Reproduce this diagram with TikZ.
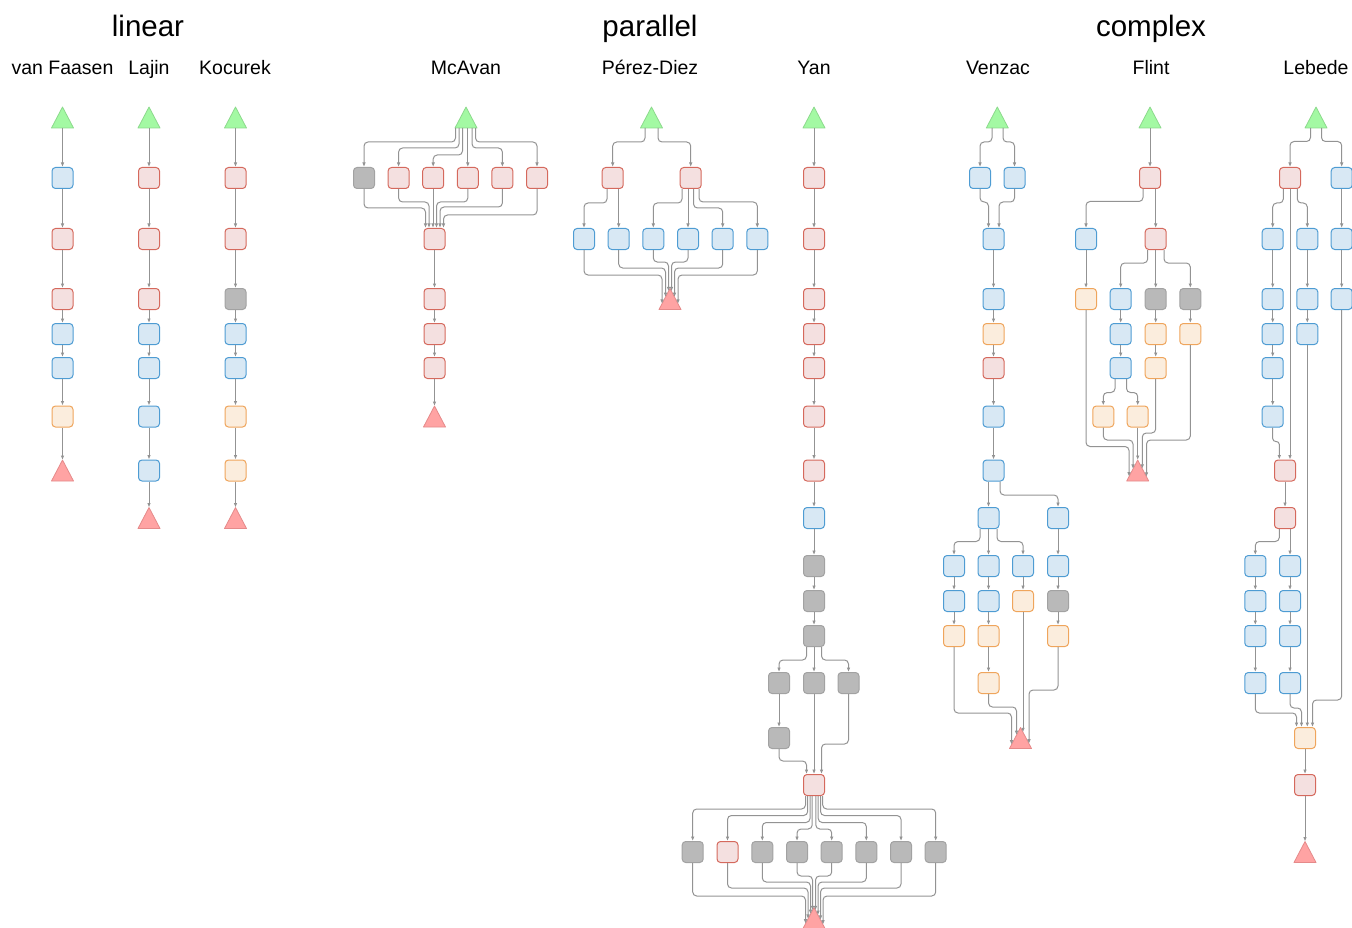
\documentclass[tikz,border=0pt]{standalone}
\usepackage{fontspec}
\setmainfont{Liberation Sans}
\usetikzlibrary{arrows.meta,calc}
\definecolor{bF}{HTML}{D8E8F4}\definecolor{bD}{HTML}{4E9CD3}
\definecolor{rF}{HTML}{F4E0E0}\definecolor{rD}{HTML}{D5695D}
\definecolor{oF}{HTML}{FBEDDD}\definecolor{oD}{HTML}{EFA55C}
\definecolor{gF}{HTML}{B9B9B9}\definecolor{gD}{HTML}{A2A2A2}
\definecolor{tgF}{HTML}{A3F9A3}\definecolor{tgD}{HTML}{8CD98C}
\definecolor{trF}{HTML}{FFA3A3}\definecolor{trD}{HTML}{E58A8A}
\definecolor{eC}{HTML}{939393}
% triangle: name, x, y, style
\newcommand\tri[4]{\node[trin] (#1) at (#2,#3) {};
  \filldraw[#4] (#1.south west) -- (#1.south east) -- (#1.north) -- cycle;}
% straight vertical edge at absolute x
\newcommand\ev[3]{\draw[conn] (#1.south -| #2,0) -- (#3.north -| #2,0);}
% bent edge: [style] src, src x, bend y, target x, target
\newcommand\eb[6][]{\draw[conn,#1] (#2.south -| #3,0) -- (#3,#4) -- (#5,#4) -- (#6.north -| #5,0);}
% bent edge into triangle
\newcommand\ebt[5]{\draw[conn] let \p1=(#5.north) in (#1.south -| #2,0) -- (#2,#3) -- (#4,#3) -- (#4pt,{\y1-21/11*abs(#4pt-\x1)});}
% vertical edge into triangle
\newcommand\evt[3]{\draw[conn] let \p1=(#3.north) in (#1.south -| #2,0) -- (#2pt,{\y1-21/11*abs(#2pt-\x1)});}
\newcommand\chain[1]{\foreach \a/\b in {#1} {\draw[conn] (\a) -- (\b);}}
\begin{document}
\begin{tikzpicture}[x=1pt,y=-1pt,
  bx/.style={rounded corners=3.5pt, minimum width=21pt, minimum height=21pt, inner sep=0pt, line width=1pt},
  nB/.style={bx, draw=bD, fill=bF},
  nR/.style={bx, draw=rD, fill=rF},
  nO/.style={bx, draw=oD, fill=oF},
  nG/.style={bx, draw=gD, fill=gF},
  trin/.style={minimum width=22pt, minimum height=21pt, inner sep=0pt, outer sep=0pt},
  tG/.style={draw=tgD, fill=tgF, line width=0.8pt, line join=round},
  tR/.style={draw=trD, fill=trF, line width=0.8pt, line join=round},
  conn/.style={draw=eC, line width=1pt, rounded corners=4pt, -{Latex[length=4.5pt,width=3.6pt]}},
  ttl/.style={font=\fontsize{29.5}{32}\selectfont, inner sep=0pt, anchor=base},
  sub/.style={font=\fontsize{19.5}{22}\selectfont, inner sep=0pt, anchor=base}]
\useasboundingbox (0,0) rectangle (1352,928);
% titles
\node[ttl] (tLin) at (148,36.5) {linear};
\node[ttl] (tPar) at (650,36.5) {parallel};
\node[ttl] (tCom) at (1151,36.5) {complex};
\node[sub] (sVF) at (62.5,74.5) {van Faasen};
\node[sub] (sLa) at (149,74.5) {Lajin};
\node[sub] (sKo) at (235,74.5) {Kocurek};
\node[sub] (sMc) at (466,74.5) {McAvan};
\node[sub] (sPD) at (650,74.5) {Pérez-Diez};
\node[sub] (sYa) at (814,74.5) {Yan};
\node[sub] (sVe) at (998,74.5) {Venzac};
\node[sub] (sFl) at (1151,74.5) {Flint};
\node[sub] (sLe) at (1316,74.5) {Lebede};
% ---------- van Faasen
\tri{vf0}{62.5}{117.5}{tG}
\node[nB] (vf1) at (62.5,178) {};
\node[nR] (vf2) at (62.5,239) {};
\node[nR] (vf3) at (62.5,299) {};
\node[nB] (vf4) at (62.5,334) {};
\node[nB] (vf5) at (62.5,368) {};
\node[nO] (vf6) at (62.5,416.5) {};
\tri{vf7}{62.5}{470.5}{tR}
\chain{vf0/vf1,vf1/vf2,vf2/vf3,vf3/vf4,vf4/vf5,vf5/vf6,vf6/vf7}
% ---------- Lajin
\tri{la0}{149}{117.5}{tG}
\node[nR] (la1) at (149,178) {};
\node[nR] (la2) at (149,239) {};
\node[nR] (la3) at (149,299) {};
\node[nB] (la4) at (149,334) {};
\node[nB] (la5) at (149,368) {};
\node[nB] (la6) at (149,416.5) {};
\node[nB] (la7) at (149,470.5) {};
\tri{la8}{149}{518}{tR}
\chain{la0/la1,la1/la2,la2/la3,la3/la4,la4/la5,la5/la6,la6/la7,la7/la8}
% ---------- Kocurek
\tri{ko0}{235.5}{117.5}{tG}
\node[nR] (ko1) at (235.5,178) {};
\node[nR] (ko2) at (235.5,239) {};
\node[nG] (ko3) at (235.5,299) {};
\node[nB] (ko4) at (235.5,334) {};
\node[nB] (ko5) at (235.5,368) {};
\node[nO] (ko6) at (235.5,416.5) {};
\node[nO] (ko7) at (235.5,470.5) {};
\tri{ko8}{235.5}{518}{tR}
\chain{ko0/ko1,ko1/ko2,ko2/ko3,ko3/ko4,ko4/ko5,ko5/ko6,ko6/ko7,ko7/ko8}
% ---------- McAvan
\tri{mc0}{466}{117.5}{tG}
\node[nG] (mc1) at (364,178) {};
\node[nR] (mc2) at (398.6,178) {};
\node[nR] (mc3) at (433.2,178) {};
\node[nR] (mc4) at (467.8,178) {};
\node[nR] (mc5) at (502.4,178) {};
\node[nR] (mc6) at (537,178) {};
\node[nR] (mc7) at (434.5,239) {};
\node[nR] (mc8) at (434.5,299) {};
\node[nR] (mc9) at (434.5,334) {};
\node[nR] (mc10) at (434.5,368) {};
\tri{mc11}{434.5}{416.5}{tR}
\eb{mc0}{455.5}{142}{364}{mc1}
\eb{mc0}{459}{148}{398.6}{mc2}
\eb{mc0}{462.5}{155}{433.2}{mc3}
\ev{mc0}{467.8}{mc4}
\eb{mc0}{472}{148}{502.4}{mc5}
\eb{mc0}{475.5}{142}{537}{mc6}
\eb{mc1}{364}{208}{425.5}{mc7}
\eb{mc2}{398.6}{202}{429}{mc7}
\ev{mc3}{433}{mc7}
\eb{mc4}{467.8}{202}{436.5}{mc7}
\eb{mc5}{502.4}{207}{440}{mc7}
\eb{mc6}{537}{215}{443.5}{mc7}
\chain{mc7/mc8,mc8/mc9,mc9/mc10,mc10/mc11}
% ---------- Perez-Diez
\tri{pd0}{651.5}{117.5}{tG}
\node[nR] (pd1) at (612.7,178) {};
\node[nR] (pd2) at (690.7,178) {};
\node[nB] (pd3) at (584,239) {};
\node[nB] (pd4) at (618.7,239) {};
\node[nB] (pd5) at (653.3,239) {};
\node[nB] (pd6) at (688,239) {};
\node[nB] (pd7) at (722.7,239) {};
\node[nB] (pd8) at (757.3,239) {};
\tri{pd9}{670}{299}{tR}
\eb{pd0}{645}{142}{612.7}{pd1}
\eb{pd0}{658}{142}{690.7}{pd2}
\eb{pd1}{607}{203}{584}{pd3}
\ev{pd1}{618.7}{pd4}
\eb{pd2}{682}{203}{653.3}{pd5}
\ev{pd2}{688}{pd6}
\eb{pd2}{693.5}{208}{722.7}{pd7}
\eb{pd2}{699}{202}{757.3}{pd8}
\ebt{pd3}{584}{275}{662}{pd9}
\ebt{pd4}{618.7}{268}{665.5}{pd9}
\ebt{pd5}{653.3}{262}{668.5}{pd9}
\ebt{pd6}{688}{262}{671.5}{pd9}
\ebt{pd7}{722.7}{268}{674.5}{pd9}
\ebt{pd8}{757.3}{275}{678}{pd9}
% ---------- Yan
\tri{ya0}{814}{117.5}{tG}
\node[nR] (ya1) at (814,178) {};
\node[nR] (ya2) at (814,239) {};
\node[nR] (ya3) at (814,299) {};
\node[nR] (ya4) at (814,334) {};
\node[nR] (ya5) at (814,368) {};
\node[nR] (ya6) at (814,416.5) {};
\node[nR] (ya7) at (814,470.5) {};
\node[nB] (ya8) at (814,518) {};
\node[nG] (ya9) at (814,566) {};
\node[nG] (ya10) at (814,601) {};
\node[nG] (ya11) at (814,636) {};
\node[nG] (ya12) at (779,683) {};
\node[nG] (ya13) at (814,683) {};
\node[nG] (ya14) at (848.5,683) {};
\node[nG] (ya15) at (779,738) {};
\node[nR] (ya16) at (814,785) {};
\node[nG] (ya17) at (692.7,852) {};
\node[nR] (ya18) at (727.5,852) {};
\node[nG] (ya19) at (762.3,852) {};
\node[nG] (ya20) at (797,852) {};
\node[nG] (ya21) at (831.7,852) {};
\node[nG] (ya22) at (866.3,852) {};
\node[nG] (ya23) at (901,852) {};
\node[nG] (ya24) at (935.7,852) {};
\tri{ya25}{814}{918}{tR}
\chain{ya0/ya1,ya1/ya2,ya2/ya3,ya3/ya4,ya4/ya5,ya5/ya6,ya6/ya7,ya7/ya8,ya8/ya9,ya9/ya10,ya10/ya11,ya11/ya13,ya12/ya15,ya13/ya16}
\eb{ya11}{806.5}{660}{779}{ya12}
\eb{ya11}{821.5}{660}{848.5}{ya14}
\eb{ya15}{779}{761}{806.5}{ya16}
\eb{ya14}{848.5}{744}{821.5}{ya16}
\eb{ya16}{805.5}{809}{692.7}{ya17}
\eb{ya16}{807.7}{815.5}{727.5}{ya18}
\eb{ya16}{810}{822.5}{762.3}{ya19}
\eb{ya16}{812.2}{829}{797}{ya20}
\eb{ya16}{815.8}{829}{831.7}{ya21}
\eb{ya16}{818.2}{822.5}{866.3}{ya22}
\eb{ya16}{820.5}{815.5}{901}{ya23}
\eb{ya16}{822.7}{809}{935.7}{ya24}
\ebt{ya17}{692.7}{896}{805.5}{ya25}
\ebt{ya18}{727.5}{888}{808}{ya25}
\ebt{ya19}{762.3}{882}{810.5}{ya25}
\ebt{ya20}{797}{876}{812.5}{ya25}
\ebt{ya21}{831.7}{876}{815.5}{ya25}
\ebt{ya22}{866.3}{882}{818}{ya25}
\ebt{ya23}{901}{888}{820.5}{ya25}
\ebt{ya24}{935.7}{896}{823}{ya25}
% ---------- Venzac
\tri{ve0}{997.3}{117.5}{tG}
\node[nB] (ve1) at (980,178) {};
\node[nB] (ve2) at (1014.5,178) {};
\node[nB] (ve3) at (993.5,239) {};
\node[nB] (ve4) at (993.5,299) {};
\node[nO] (ve5) at (993.5,334) {};
\node[nR] (ve6) at (993.5,368) {};
\node[nB] (ve7) at (993.5,416.5) {};
\node[nB] (ve8) at (993.5,470.5) {};
\node[nB] (ve9) at (988.5,518) {};
\node[nB] (ve10) at (1058,518) {};
\node[nB] (ve11) at (954,566) {};
\node[nB] (ve12) at (988.5,566) {};
\node[nB] (ve13) at (1023,566) {};
\node[nB] (ve14) at (1058,566) {};
\node[nB] (ve15) at (954,601) {};
\node[nB] (ve16) at (988.5,601) {};
\node[nO] (ve17) at (1023,601) {};
\node[nG] (ve18) at (1058,601) {};
\node[nO] (ve19) at (954,636) {};
\node[nO] (ve20) at (988.5,636) {};
\node[nO] (ve21) at (1058,636) {};
\node[nO] (ve22) at (988.5,683) {};
\tri{ve23}{1020.5}{738}{tR}
\eb{ve0}{992}{142}{980}{ve1}
\eb{ve0}{1003}{142}{1014.5}{ve2}
\eb{ve1}{980}{202}{988.5}{ve3}
\eb{ve2}{1014.5}{202}{999}{ve3}
\chain{ve3/ve4,ve4/ve5,ve5/ve6,ve6/ve7,ve7/ve8,ve9/ve12,ve10/ve14,ve11/ve15,ve15/ve19,ve12/ve16,ve16/ve20,ve20/ve22,ve13/ve17,ve14/ve18,ve18/ve21}
\ev{ve8}{988.5}{ve9}
\eb{ve8}{1000}{495}{1058}{ve10}
\eb{ve9}{980}{541.5}{954}{ve11}
\eb{ve9}{997}{541.5}{1023}{ve13}
\ebt{ve19}{954}{713}{1011.5}{ve23}
\ebt{ve22}{988.5}{707}{1016.5}{ve23}
\evt{ve17}{1023}{ve23}
\ebt{ve21}{1058}{690}{1029}{ve23}
% ---------- Flint
\tri{fl0}{1150}{117.5}{tG}
\node[nR] (fl1) at (1150,178) {};
\node[nB] (fl2) at (1086,239) {};
\node[nR] (fl3) at (1155.7,239) {};
\node[nO] (fl4) at (1086,299) {};
\node[nB] (fl5) at (1120.7,299) {};
\node[nG] (fl6) at (1155.7,299) {};
\node[nG] (fl7) at (1190.3,299) {};
\node[nB] (fl8) at (1120.7,334) {};
\node[nO] (fl9) at (1155.7,334) {};
\node[nO] (fl10) at (1190.3,334) {};
\node[nB] (fl11) at (1120.7,368) {};
\node[nO] (fl12) at (1155.7,368) {};
\node[nO] (fl13) at (1103.3,416.5) {};
\node[nO] (fl14) at (1137.7,416.5) {};
\tri{fl15}{1137.7}{470.5}{tR}
\chain{fl0/fl1,fl2/fl4,fl3/fl6,fl5/fl8,fl8/fl11,fl6/fl9,fl9/fl12,fl7/fl10}
\eb{fl1}{1143}{201.5}{1086}{fl2}
\ev{fl1}{1155.7}{fl3}
\eb{fl3}{1147.7}{263}{1120.7}{fl5}
\eb{fl3}{1164}{263}{1190.3}{fl7}
\eb{fl11}{1115}{392.5}{1103.3}{fl13}
\eb{fl11}{1126.5}{392.5}{1137.7}{fl14}
\ebt{fl4}{1086}{446.5}{1129}{fl15}
\ebt{fl13}{1103.3}{440}{1133}{fl15}
\evt{fl14}{1137.7}{fl15}
\ebt{fl12}{1155.7}{433}{1142.3}{fl15}
\ebt{fl10}{1190.3}{440}{1146.5}{fl15}
% ---------- Lebede
\tri{le0}{1316}{117.5}{tG}
\node[nR] (le1) at (1290,178) {};
\node[nB] (le2) at (1341.7,178) {};
\node[nB] (le3) at (1272.7,239) {};
\node[nB] (le4) at (1307.3,239) {};
\node[nB] (le5) at (1341.7,239) {};
\node[nB] (le6) at (1272.7,299) {};
\node[nB] (le7) at (1307.3,299) {};
\node[nB] (le8) at (1341.7,299) {};
\node[nB] (le9) at (1272.7,334) {};
\node[nB] (le10) at (1307.3,334) {};
\node[nB] (le11) at (1272.7,368) {};
\node[nB] (le12) at (1272.7,416.5) {};
\node[nR] (le13) at (1285,470.5) {};
\node[nR] (le14) at (1285,518) {};
\node[nB] (le15) at (1255.3,566) {};
\node[nB] (le16) at (1290,566) {};
\node[nB] (le17) at (1255.3,601) {};
\node[nB] (le18) at (1290,601) {};
\node[nB] (le19) at (1255.3,636) {};
\node[nB] (le20) at (1290,636) {};
\node[nB] (le21) at (1255.3,683) {};
\node[nB] (le22) at (1290,683) {};
\node[nO] (le23) at (1305,738) {};
\node[nR] (le24) at (1305,785) {};
\tri{le25}{1305}{852}{tR}
\eb{le0}{1310.5}{141.5}{1290}{le1}
\eb{le0}{1321.5}{141.5}{1341.7}{le2}
\eb{le1}{1283.3}{203}{1272.7}{le3}
\eb{le1}{1297.3}{203}{1307.3}{le4}
\ev{le1}{1290}{le13}
\chain{le2/le5,le5/le8,le3/le6,le6/le9,le9/le11,le11/le12,le4/le7,le7/le10,le13/le14,le15/le17,le17/le19,le19/le21,le16/le18,le18/le20,le20/le22,le23/le24,le24/le25}
\eb{le8}{1341.7}{700}{1312.5}{le23}
\eb[rounded corners=3pt]{le12}{1272.7}{441.5}{1279.3}{le13}
\ev{le10}{1307.3}{le23}
\eb{le14}{1279.3}{541.5}{1255.3}{le15}
\ev{le14}{1290}{le16}
\eb{le21}{1255.3}{713}{1296.5}{le23}
\eb{le22}{1290}{708}{1301.5}{le23}
\end{tikzpicture}
\end{document}
